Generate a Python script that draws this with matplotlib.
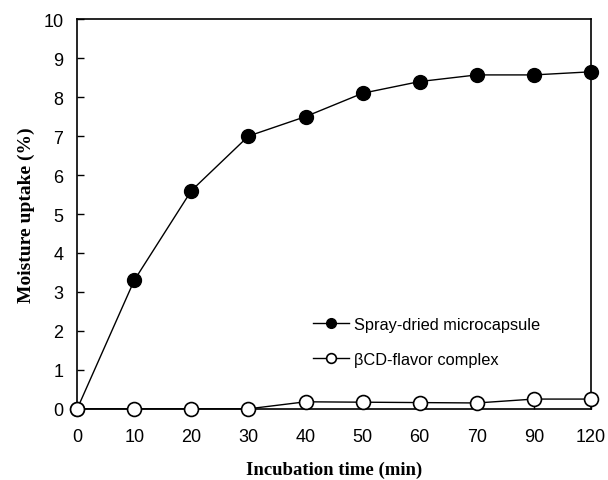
import matplotlib
matplotlib.use('Agg')
import matplotlib.pyplot as plt

# incubation times (categorical, evenly spaced on the chart)
times = ['0', '10', '20', '30', '40', '50', '60', '70', '90', '120']
spray_dried = [0, 3.3, 5.6, 7.0, 7.5, 8.1, 8.4, 8.57, 8.57, 8.65]
bcd_complex = [0, 0, 0, 0, 0.18, 0.17, 0.16, 0.15, 0.25, 0.25]

plt.rcParams['font.family'] = ['Liberation Sans', 'DejaVu Sans']

fig = plt.figure(figsize=(6.08, 4.81), dpi=100)
ax = fig.add_axes([0.127, 0.148, 0.845, 0.81])

x = list(range(len(times)))
ax.plot(x, spray_dried, color='black', lw=1, marker='o', markersize=10,
        markerfacecolor='black', markeredgecolor='black',
        label='Spray-dried microcapsule', clip_on=False, zorder=3)
ax.plot(x, bcd_complex, color='black', lw=1, marker='o', markersize=10,
        markerfacecolor='white', markeredgecolor='black', markeredgewidth=1.2,
        label='\u03b2CD-flavor complex', clip_on=False, zorder=3)

ax.set_xlim(0, len(times) - 1)
ax.set_ylim(0, 10)
ax.set_xticks(x)
ax.set_xticklabels(times)
ax.set_yticks(range(0, 11))
ax.tick_params(direction='in', length=5, labelsize=13, width=1)
ax.tick_params(axis='x', pad=14)
ax.tick_params(axis='y', pad=10)
for s in ax.spines.values():
    s.set_linewidth(1.2)

ax.set_xlabel('Incubation time (min)', family='Liberation Serif', fontweight='bold',
              fontsize=13.5, labelpad=11)
ax.set_ylabel('Moisture uptake (%)', family='Liberation Serif', fontweight='bold',
              fontsize=14, labelpad=6)

ax.legend(loc='lower left', bbox_to_anchor=(0.43, 0.07), frameon=False,
          fontsize=11.8, labelspacing=1.2, handlelength=2.2, handletextpad=0.3,
          markerscale=0.7)

fig.savefig('out.png', dpi=100)
